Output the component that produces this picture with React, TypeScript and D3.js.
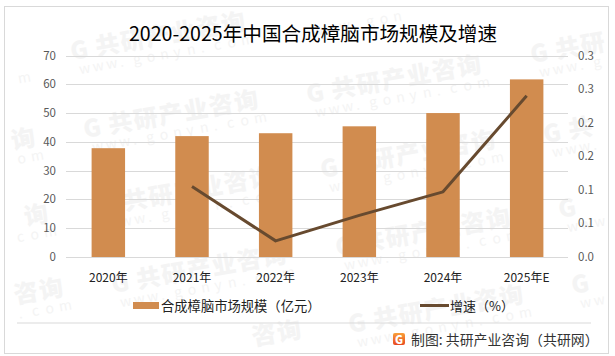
import React from "react";
import * as d3 from "d3";

const years = ["2020年", "2021年", "2022年", "2023年", "2024年", "2025年E"];
const scaleValues = [37.8, 42, 43, 45.4, 50, 61.7];
const growthYears = ["2021年", "2022年", "2023年", "2024年", "2025年E"];
const growthValues = [0.105, 0.024, 0.062, 0.097, 0.24];
const leftTicks = [0, 10, 20, 30, 40, 50, 60, 70];
const rightTicks = [0, 0.05, 0.1, 0.15, 0.2, 0.25, 0.3];
const rightLabels = ["0.0", "0.1", "0.1", "0.2", "0.2", "0.3", "0.3"];
const markOrigins: [number, number][] = [
  [-151, 98], [-138, 176], [-125, 252], [-110, 326],
  [72, 60], [85, 138], [100, 215], [113, 293], [128, 368],
  [305, 22], [308, 103], [322, 178], [337, 256], [350, 333],
  [532, 63], [545, 143], [560, 218], [573, 294],
];
const markChars = ["G", "共", "研", "产", "业", "咨", "询"];
const markUrl = "www.gonyn.com".split("");

const FONT = "'Noto Sans CJK SC','Noto Sans',sans-serif";
const ANGLE = -10;
const rad = (ANGLE * Math.PI) / 180;
const inFrame = (px: number, py: number, w: number, h: number) =>
  px > 6 && px + w < 607 && py - h > 8 && py + 3 < 352;

export default function App() {
  const x = d3.scaleBand<string>().domain(years).range([66.5, 568.5]).paddingInner(0.6).paddingOuter(0.3);
  const y = d3.scaleLinear().domain([0, 70]).range([257, 55.5]);
  const y2 = d3.scaleLinear().domain([0, 0.3]).range([257, 55.5]);
  const cx = (c: string) => (x(c) as number) + x.bandwidth() / 2;
  const line = d3.line<number>().x((_, i) => cx(growthYears[i])).y((d) => y2(d));

  return (
    <svg width={615} height={356} style={{ position: "absolute", left: 0, top: 0, fontFamily: FONT }}>
      <rect x={0} y={0} width={615} height={356} fill="#fff" />
      <rect x={4.5} y={6.5} width={604} height={347} fill="#fff" stroke="#d9d9d9" strokeWidth={1} />

      {markOrigins.map(([mx, my], i) => (
        <g key={i} fill="#f4f4f4">
          {markChars.map((ch, k) => {
            const d = k * 25.5;
            const px = mx + d * Math.cos(rad);
            const py = my + d * Math.sin(rad);
            if (!inFrame(px, py, 24, 24)) return null;
            return (
              <text key={k} transform={`translate(${px},${py}) rotate(${ANGLE})`} fontSize={24} fontWeight={900}>
                {ch}
              </text>
            );
          })}
          {markUrl.map((ch, k) => {
            const d = 5 + k * 13.7;
            const px = mx + 3 + d * Math.cos(rad);
            const py = my + 15 + d * Math.sin(rad);
            if (!inFrame(px, py, 10, 12)) return null;
            return (
              <text key={k} transform={`translate(${px},${py}) rotate(${ANGLE})`} fontSize={14}>
                {ch}
              </text>
            );
          })}
        </g>
      ))}

      <text x={313} y={40.5} textAnchor="middle" fontSize={19.6} fill="#000">
        2020-2025年中国合成樟脑市场规模及增速
      </text>

      {leftTicks.map((t) => (
        <line key={t} x1={66} x2={568} y1={Math.round(y(t)) + 0.5} y2={Math.round(y(t)) + 0.5} stroke="#d9d9d9" />
      ))}

      {years.map((c, i) => (
        <rect key={c} x={x(c)} y={y(scaleValues[i])} width={x.bandwidth()} height={257 - y(scaleValues[i])} fill="#d18c4f" />
      ))}

      <path d={line(growthValues) as string} fill="none" stroke="#674a2f" strokeWidth={3} strokeLinejoin="round" />

      {leftTicks.map((t) => (
        <text key={t} x={56} y={y(t) + 4} textAnchor="end" fontSize={11.5} fill="#595959">
          {t}
        </text>
      ))}
      {rightTicks.map((t, i) => (
        <text key={i} x={578} y={y2(t) + 4} fontSize={11.5} fill="#595959">
          {rightLabels[i]}
        </text>
      ))}
      {years.map((c) => (
        <text key={c} x={cx(c)} y={282} textAnchor="middle" fontSize={12} fill="#222">
          {c}
        </text>
      ))}

      <rect x={133} y={302} width={26} height={7} fill="#d18c4f" />
      <text x={161} y={310.5} fontSize={13.3} fill="#222">
        合成樟脑市场规模（亿元）
      </text>
      <line x1={420} x2={449} y1={305.5} y2={305.5} stroke="#674a2f" strokeWidth={3} />
      <text x={450} y={310.5} fontSize={13} fill="#222">
        增速（%）
      </text>

      <line x1={17} x2={591} y1={323} y2={323} stroke="#d9d9d9" />

      <defs>
        <linearGradient id="logoG" x1="0" y1="0" x2="0" y2="1">
          <stop offset="0" stopColor="#f9a03a" />
          <stop offset="1" stopColor="#e8481f" />
        </linearGradient>
      </defs>
      <rect x={393} y={333} width={12} height={12} rx={2} fill="url(#logoG)" />
      <text x={399} y={343.5} textAnchor="middle" fontSize={11} fontWeight={900} fill="#fff">
        G
      </text>
      <text x={411} y={344.5} fontSize={13.9} fill="#333">
        制图: 共研产业咨询（共研网）
      </text>
    </svg>
  );
}
